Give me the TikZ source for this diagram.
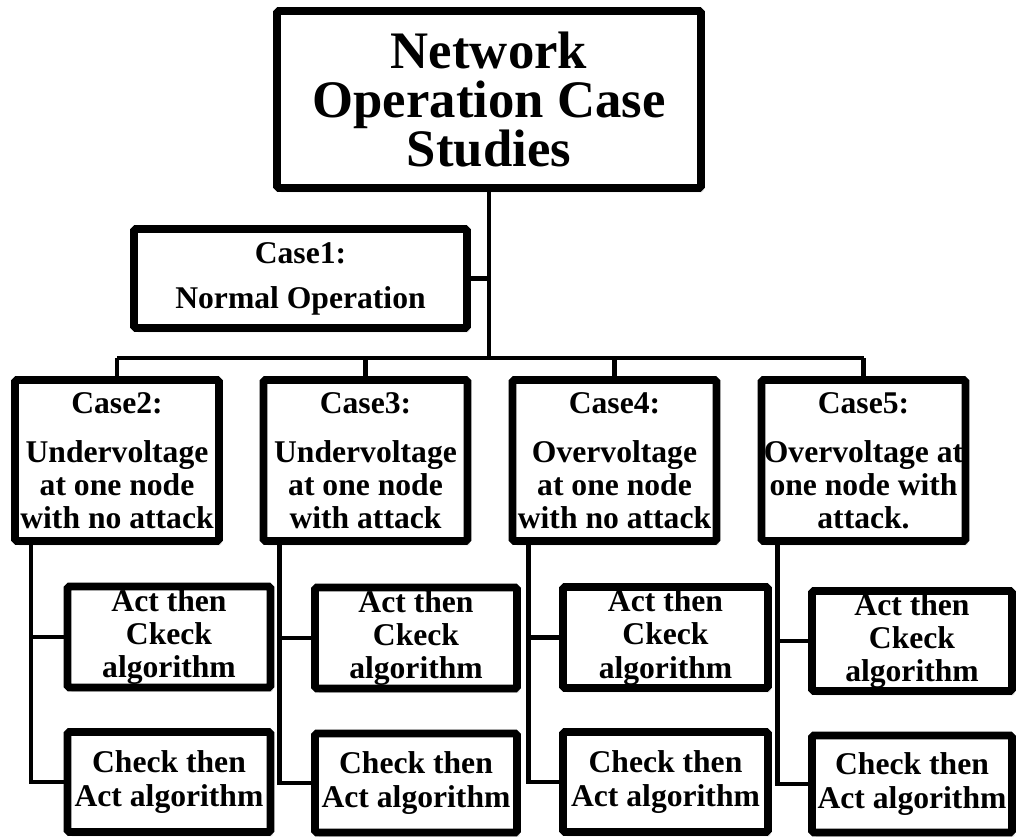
\documentclass[tikz,border=0pt]{standalone}
\usepackage{fontspec}
\setmainfont{Liberation Serif}
\usetikzlibrary{shadows}

\tikzset{
  casebox/.style={draw, fill=white, line width=4.4pt, rounded corners=1pt,
    align=center, inner sep=0pt,
    drop shadow={shadow xshift=1.5pt, shadow yshift=-2.5pt, opacity=0.25},
    font=\bfseries\fontsize{18}{18.8}\selectfont,
    minimum width=4.08cm, minimum height=3.22cm},
  algbox/.style={casebox, minimum width=4.06cm, minimum height=2.02cm},
  link/.style={line width=2.6pt}
}

\begin{document}
\begin{tikzpicture}[x=0.02cm, y=-0.02cm]
  \useasboundingbox (0,0) rectangle (1016,838);
  % Top box
  \node[casebox, font=\bfseries\fontsize{30}{27.9}\selectfont,
        minimum width=8.48cm, minimum height=3.54cm] (title) at (489,99.5)
        {Network\\Operation Case\\Studies};
  % Case 1
  \node[casebox, minimum width=6.66cm, minimum height=1.98cm] (case1) at (300.5,278.5)
        {Case1:\\[6.8pt]Normal Operation};
  % Cases 2 to 5
  \node[casebox] (case2) at (117,460.5) {Case2:\\[9pt]Undervoltage\\at one node\\with no attack};
  \node[casebox] (case3) at (365.5,460.5) {Case3:\\[9pt]Undervoltage\\at one node\\with attack};
  \node[casebox] (case4) at (614.5,460.5) {Case4:\\[9pt]Overvoltage\\at one node\\with no attack};
  \node[casebox] (case5) at (863.5,460.5) {Case5:\\[9pt]Overvoltage at\\one node with\\attack.};
  % Algorithms under each case
  \node[algbox] (act2) at (169,637) {Act then\\Ckeck\\algorithm};
  \node[algbox, minimum height=2cm] (check2) at (169,782) {Check then\\Act algorithm};
  \node[algbox, minimum width=4.04cm] (act3) at (416,638) {Act then\\Ckeck\\algorithm};
  \node[algbox, minimum width=4.04cm, minimum height=1.98cm] (check3) at (416,783) {Check then\\Act algorithm};
  \node[algbox, minimum width=4.1cm] (act4) at (665.5,637.5) {Act then\\Ckeck\\algorithm};
  \node[algbox, minimum width=4.1cm, minimum height=2cm] (check4) at (665.5,782) {Check then\\Act algorithm};
  \node[algbox, minimum width=4cm, minimum height=2cm] (act5) at (912,641) {Act then\\Ckeck\\algorithm};
  \node[algbox, minimum width=4cm, minimum height=1.94cm] (check5) at (912,784) {Check then\\Act algorithm};
  % Bus line
  \coordinate (bus) at (0,358);
  \draw[link] (title.south) -- (title.south |- bus);
  \draw[link] (case1.east) -- (case1.east -| title.south);
  \draw[link] (case2.north |- bus) -- (case5.north |- bus);
  \draw[link] (case2.north) -- (case2.north |- bus);
  \draw[link] (case3.north) -- (case3.north |- bus);
  \draw[link] (case4.north) -- (case4.north |- bus);
  \draw[link] (case5.north) -- (case5.north |- bus);
  % Case to algorithm links
  \draw[link] ([xshift=0.4cm]case2.south west) |- (check2.west);
  \draw[link] ([xshift=0.4cm]case2.south west) |- (act2.west);
  \draw[link] ([xshift=0.4cm]case3.south west) |- (check3.west);
  \draw[link] ([xshift=0.4cm]case3.south west) |- (act3.west);
  \draw[link] ([xshift=0.4cm]case4.south west) |- (check4.west);
  \draw[link] ([xshift=0.4cm]case4.south west) |- (act4.west);
  \draw[link] ([xshift=0.4cm]case5.south west) |- (check5.west);
  \draw[link] ([xshift=0.4cm]case5.south west) |- (act5.west);
\end{tikzpicture}
\end{document}
